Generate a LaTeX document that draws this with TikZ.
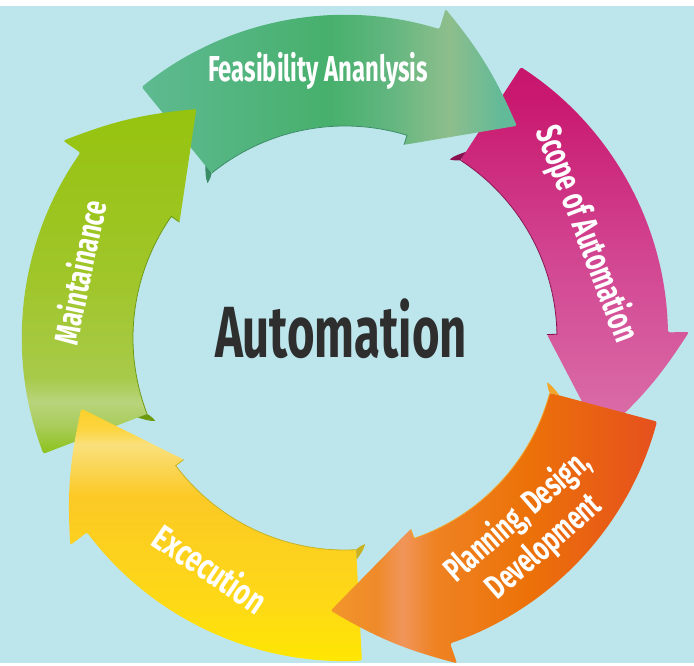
\documentclass[tikz,border=0pt]{standalone}
\usepackage{fontspec}
\usepackage{graphicx}
\newfontfamily\condf{Fira Sans}
\definecolor{bgc}{HTML}{BDE6EC}
\definecolor{txtc}{HTML}{2E2E2E}
% green
\definecolor{ga}{HTML}{5EBA91}\definecolor{gb}{HTML}{51B47D}\definecolor{gc}{HTML}{47B06C}
\definecolor{gd}{HTML}{62B67F}\definecolor{ge}{HTML}{8EBE8C}\definecolor{gf}{HTML}{62BA98}
\definecolor{greenedge}{HTML}{3A8C66}
% pink
\definecolor{pa}{HTML}{DA70AA}\definecolor{pb}{HTML}{D864A3}\definecolor{pc}{HTML}{D24490}
\definecolor{pd}{HTML}{C91A70}\definecolor{pe}{HTML}{C8156C}
\definecolor{pinkedge}{HTML}{8A1050}
% orange
\definecolor{oa}{HTML}{F2962A}\definecolor{ob}{HTML}{EF8A2A}\definecolor{oc}{HTML}{F0955A}
\definecolor{od}{HTML}{EF8222}\definecolor{oe}{HTML}{EC7208}\definecolor{of}{HTML}{E6501E}
\definecolor{orangeedge}{HTML}{F3A52A}
% yellow
\definecolor{ya}{HTML}{FFE800}\definecolor{yb}{HTML}{FDD916}\definecolor{yc}{HTML}{FCC925}
\definecolor{yd}{HTML}{F9E07C}\definecolor{ye}{HTML}{FCD540}\definecolor{yf}{HTML}{FCD02A}
\definecolor{yellowedge}{HTML}{C9B21E}
% lime
\definecolor{la}{HTML}{8CC21A}\definecolor{lb}{HTML}{A9CC5A}\definecolor{lc}{HTML}{B8D47C}
\definecolor{ld}{HTML}{A8CA4A}\definecolor{le}{HTML}{A0C62A}\definecolor{lf}{HTML}{96C30F}
\definecolor{limeedge}{HTML}{6E9A10}

\pgfdeclarehorizontalshading{shgreen}{100bp}{color(0bp)=(ga); color(25bp)=(ga); color(39bp)=(gb); color(50bp)=(gc); color(58bp)=(gd); color(66bp)=(ge); color(73bp)=(gf); color(100bp)=(gf)}
\pgfdeclareverticalshading{shpink}{100bp}{color(0bp)=(pa); color(25bp)=(pa); color(32bp)=(pb); color(50bp)=(pc); color(70bp)=(pd); color(75bp)=(pe); color(100bp)=(pe)}
\pgfdeclarehorizontalshading{shorange}{100bp}{color(0bp)=(oa); color(25bp)=(oa); color(32bp)=(ob); color(36bp)=(oc); color(41bp)=(od); color(55bp)=(oe); color(75bp)=(of); color(100bp)=(of)}
\pgfdeclareverticalshading{shyellow}{100bp}{color(0bp)=(ya); color(25bp)=(ya); color(37bp)=(yb); color(58bp)=(yc); color(68bp)=(yd); color(71bp)=(ye); color(75bp)=(yf); color(100bp)=(yf)}
\pgfdeclareverticalshading{shlime}{100bp}{color(0bp)=(la); color(25bp)=(la); color(29bp)=(lb); color(32.5bp)=(lc); color(36bp)=(ld); color(50bp)=(le); color(75bp)=(lf); color(100bp)=(lf)}

% #1 tail angle, #2 shading, #3 edge colour, #4 shading angle
\newcommand\arw[4]{%
  \pgfmathsetmacro\tb{#1-56}\pgfmathsetmacro\tp{#1-78}%
  \path[shading=#2, shading angle=#4, rounded corners=2pt]
    (#1:323) arc[start angle=#1, end angle=\tb, radius=323]
    -- (\tb:344) to[bend left=8] (\tp:273) -- (\tb:202) -- (\tb:212)
    arc[start angle=\tb, end angle=#1, radius=212] -- cycle;
  \draw[#3, line width=0.8pt] (#1:212) arc[start angle=#1, end angle=\tb, radius=212] -- (\tb:202);
  \fill[#3] (#1:212) -- (#1:222) .. controls ({#1+1}:217) and ({#1+2.2}:212) .. ({#1+2.6}:207)
    .. controls ({#1+1.6}:208) and ({#1+0.6}:210) .. cycle;
}
\newcommand\wl[3]{\resizebox{#1}{\height}{\fontsize{#2}{#2}\selectfont\condf\bfseries #3}}

\tikzset{lbl/.style={text=white, inner sep=0pt}}

\begin{document}
\begin{tikzpicture}[x=1pt,y=1pt]
\useasboundingbox (0,0) rectangle (694,-666);
\fill[white] (0,0) rectangle (694,-666);
\fill[bgc] (0,-6) rectangle (694,-663);
\begin{scope}[shift={(345,-338)}]
\arw{57}{shpink}{pinkedge}{0}
\arw{129}{shgreen}{greenedge}{0}
\arw{201}{shlime}{limeedge}{0}
\arw{-87}{shyellow}{yellowedge}{0}
\arw{-15}{shorange}{orangeedge}{0}
\end{scope}
\node[lbl, anchor=base] (feas) at (318,-82) {\wl{220pt}{36pt}{Feasibility Ananlysis}};
\node[lbl, rotate=-69] (scope) at (586,-234) {\wl{228pt}{36pt}{Scope of Automation}};
\node[lbl, rotate=41, align=center, font=\fontsize{34}{40}\selectfont] (plan) at (531,-532)
  {\wl{180pt}{34pt}{Planning, Design,}\\\wl{140pt}{34pt}{Development}};
\node[lbl, rotate=-34] (exec) at (211,-568) {\wl{128pt}{36pt}{Excecution}};
\node[lbl, rotate=78] (maint) at (79,-272) {\wl{146pt}{34pt}{Maintainance}};
\node[text=txtc, inner sep=0pt, anchor=base] (auto) at (341,-357) {\wl{252pt}{72.5pt}{Automation}};
\end{tikzpicture}
\end{document}
